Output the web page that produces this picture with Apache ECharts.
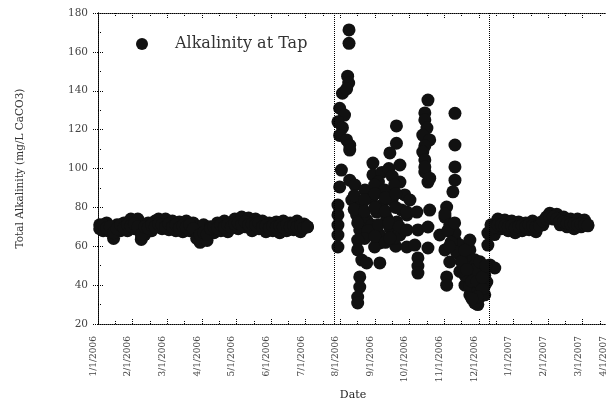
<!DOCTYPE html>
<html><head><meta charset="utf-8">
<script src="https://cdn.jsdelivr.net/npm/echarts@6/dist/echarts.min.js"></script>
<style>html,body{margin:0;padding:0;background:#fff}#c{width:606px;height:400px}</style>
</head><body><div id="c"></div>
<script>
const tickLabels = ['1/1/2006','2/1/2006','3/1/2006','4/1/2006','5/1/2006','6/1/2006','7/1/2006','8/1/2006','9/1/2006','10/1/2006','11/1/2006','12/1/2006','1/1/2007','2/1/2007','3/1/2007','4/1/2007'];
const yTicks = [20,40,60,80,100,120,140,160,180];
const phaseBreaks = [6.81, 11.29];

const phase1Dates = [0.05,0.15,0.25,0.35,0.45,0.55,0.65,0.75,0.85,0.95,1.05,1.15,1.25,1.35,1.45,1.55,1.65,1.75,1.85,1.95,2.05,2.15,2.25,2.35,2.45,2.55,2.65,2.75,2.85,2.95,3.05,3.15,3.25,3.35,3.45,3.55,3.65,3.75,3.85,3.95,4.05,4.15,4.25,4.35,4.45,4.55,4.65,4.75,4.85,4.95,5.05,5.15,5.25,5.35,5.45,5.55,5.65,5.75,5.85,5.95,6.05];
const phase1Values = [71,68,72,67.5,64,71,68,72,68,74,69,74,63.5,66,72,68,73,74,69,74,68.5,73,68,72.5,67.5,73,68,72,66,62,71,63,70,67,72,68,73,67.5,72,74,69,75,70,74.5,68,74,69,73,67.5,72,68,72.5,67,73,68,72,68.5,73,67.5,71.5,70];
const phase1ValuesB = [69,71,69.5,70,67,69,71,69.5,71,70.5,71.5,70,66,70,69.5,71,70,71.5,71,70,71.5,70,71,69.5,70.5,70,71,69,64,66,67,66,69,70,69.5,71,70,71,70,71.5,72,71,72.5,71,71.5,71,72,70,70.5,69.5,70.5,70,70.5,70,71,70,70.5,70,70.5,69.5,70];

const phase2Points = [
 [7.25,171.3],[7.25,164.4],[7.21,147.5],[7.24,144],[7.06,138.7],[7.18,140.9],
 [6.98,131],[7.12,127.5],[6.93,124],[7.06,121],[6.98,117],[7.18,114.7],[7.27,112],[7.27,109.5],
 [8.62,121.9],[8.62,113],[8.43,108],
 [9.53,135.2],[9.44,128.6],[9.44,125],[9.50,120.8],[9.38,117.2],[9.58,114.7],[9.44,111.6],[9.38,108.5],
 [10.31,128.4],[10.31,112.1],
 [7.03,99.2],[7.94,102.8],[7.94,96.7],[8.72,101.8],[8.72,93],[9.44,104.4],[9.44,98.2],[9.53,93],
 [10.31,100.8],[10.31,94],[10.25,88],[6.98,90.5],[7.27,94],
 [8.2,98],[8.4,100],[8.1,93],[8.5,96],[9.44,100.8],[9.58,95],
 [6.93,81.2],[6.93,76.1],[6.93,70.9],[6.93,65.8],[6.93,59.6],
 [7.42,91.5],[7.71,88.9],[7.99,91.5],[8.28,88.9],[8.57,91.5],[8.86,86.4],
 [7.33,83.8],[7.62,81.2],[7.91,84.8],[8.20,81.2],[8.49,83.8],[8.77,78.6],
 [7.47,76.1],[7.76,73.5],[8.05,77.6],[8.34,74.5],[8.63,72.5],[8.92,76.1],
 [7.56,68.4],[7.91,70.9],[8.14,65.8],[8.43,69.4],[8.72,65.8],[8.14,61.7],[7.99,59.6],
 [7.4,86],[7.7,84],[8.0,87],[8.3,85],[8.6,87],[7.4,79],[7.7,78],[8.0,80],[8.3,78],[8.6,80],
 [7.5,72],[7.8,68],[8.1,71],[8.4,72],[8.7,70],[7.7,64],[8.0,65],[8.3,62],[8.6,60],
 [7.50,63.2],[7.50,58.1],[7.62,52.9],[7.76,51.4],[8.14,51.4],
 [7.56,44.2],[7.56,39],[7.50,33.9],[7.50,30.8],
 [8.57,64.2],[8.92,68.4],[9.24,68.4],[8.92,59.6],[9.15,60.6],[8.43,64.2],
 [9.24,54],[9.24,49.8],[9.24,46.2],
 [9.53,59.1],[9.58,78.6],[9.53,69.9],[8.92,77.6],[9.21,77.6],[9.01,83.8],
 [10.07,80.2],[10.02,75],[10.02,76.6],[10.16,71],[9.87,65.8],[10.31,63.2],[10.02,58.1],
 [10.45,55.5],[10.16,51.9],[10.60,50.4],[10.74,58.1],[10.88,53],[10.74,45.2],[11.03,47.8],
 [11.32,50.4],[11.46,48.8],
 [10.60,40],[10.88,37.5],[11.17,40],[10.74,35],[11.03,34],[10.97,30],[11.23,41.6],
 [10.07,44.2],[10.07,40],[10.88,30.8],
 [10.31,66.8],[10.45,60.6],[10.74,63.2],[11.26,66.8],[11.26,60.6],
 [10.60,45],[10.74,40],[10.88,44],[11.03,40],[11.17,35],[10.97,37],[11.17,45],[10.88,48],[11.03,52],[10.60,54],[10.45,47],
 [10.1,68],[10.2,62],[10.35,57],[10.5,52],[10.65,48],[10.8,42],[10.95,42],[11.1,38],[11.1,44],[10.95,34],[10.8,33],[11.2,50],[10.3,72],[10.15,60],[10.6,58]
];

const phase3Dates = [11.35,11.45,11.55,11.65,11.75,11.85,11.95,12.05,12.15,12.25,12.35,12.45,12.55,12.65,12.75,12.85,12.95,13.05,13.15,13.25,13.35,13.45,13.55,13.65,13.75,13.85,13.95,14.05,14.15];
const phase3Values = [71,66,74,69,73.5,68,73,67,72.5,68,72,68.5,73,67.5,72,71,75,77,74,76.5,71,75,70,74,69,74,70,73.5,71];
const phase3ValuesB = [69,70,71,71,70.5,70,70.5,69.5,70,70.5,70,71,70.5,70,70.5,73,74,75,75,74,73,72.5,72,71.5,71.5,71,71.5,71,70.5];

const font = 'DejaVu Serif';
const ink = '#111';
const dotted = {color:'#000', type:'dotted', width:1};

const allPoints = phase1Dates.map((d,i)=>[d,phase1Values[i]])
  .concat(phase1Dates.map((d,i)=>[d,phase1ValuesB[i]]))
  .concat(phase2Points)
  .concat(phase3Dates.map((d,i)=>[d,phase3Values[i]]))
  .concat(phase3Dates.map((d,i)=>[d,phase3ValuesB[i]]));

const xCommon = {type:'value', min:0, max:14.73, interval:1};
const chart = echarts.init(document.getElementById('c'), null, {renderer:'canvas'});
chart.setOption({
  backgroundColor:'#fff',
  animation:false,
  grid:{left:98, top:13, right:-2, bottom:76, containLabel:false, outerBoundsMode:'none'},
  legend:{
    left:131, top:31, itemWidth:12, itemHeight:12, icon:'circle',
    data:['Alkalinity at Tap'],
    textStyle:{fontFamily:font, fontSize:16, color:'#333', padding:[0,0,0,22]}
  },
  xAxis:[
    Object.assign({}, xCommon, {
      position:'bottom',
      name:'Date', nameLocation:'middle', nameGap:66,
      nameTextStyle:{fontFamily:font, fontSize:11, color:'#222'},
      axisLine:{show:true, lineStyle:dotted},
      axisTick:{show:true, inside:true, length:5, lineStyle:dotted},
      minorTick:{show:true, splitNumber:2, length:3, lineStyle:{color:'#000',type:'dotted'}},
      splitLine:{show:false},
      axisLabel:{rotate:90, margin:12, fontFamily:font, fontSize:9, color:'#444', verticalAlign:'bottom',
        formatter:(v)=>tickLabels[Math.round(v)] || ''}
    }),
    Object.assign({}, xCommon, {
      position:'top',
      axisLine:{show:true, lineStyle:dotted},
      axisTick:{show:true, inside:true, length:5, lineStyle:dotted},
      minorTick:{show:true, splitNumber:2, length:3, lineStyle:{color:'#000',type:'dotted'}},
      splitLine:{show:false},
      axisLabel:{show:false}
    })
  ],
  yAxis:[
    {type:'value', min:20, max:180, interval:20, position:'left',
     name:'Total Alkalinity (mg/L CaCO3)', nameLocation:'middle', nameGap:72,
     nameTextStyle:{fontFamily:font, fontSize:10.5, color:'#333'},
     axisLine:{show:true, lineStyle:dotted},
     axisTick:{show:true, inside:true, length:5, lineStyle:dotted},
     minorTick:{show:true, splitNumber:2, length:3, lineStyle:{color:'#000',type:'dotted'}},
     splitLine:{show:false},
     axisLabel:{margin:10, fontFamily:font, fontSize:10.5, color:'#444',
       formatter:(v)=>yTicks.includes(v)?String(v):''}},
    {type:'value', min:20, max:180, interval:20, position:'right',
     axisLine:{show:true, lineStyle:dotted},
     axisTick:{show:true, inside:true, length:5, lineStyle:dotted},
     splitLine:{show:false}, axisLabel:{show:false}}
  ],
  series:[
    {name:'Alkalinity at Tap', type:'scatter', xAxisIndex:0, yAxisIndex:0,
     symbol:'circle', symbolSize:13, itemStyle:{color:ink, opacity:1},
     data:allPoints,
     markLine:{silent:true, symbol:'none', label:{show:false},
       lineStyle:{color:'#000', type:'dotted', width:1},
       data:phaseBreaks.map(v=>({xAxis:v}))}}
  ]
});
</script></body></html>
